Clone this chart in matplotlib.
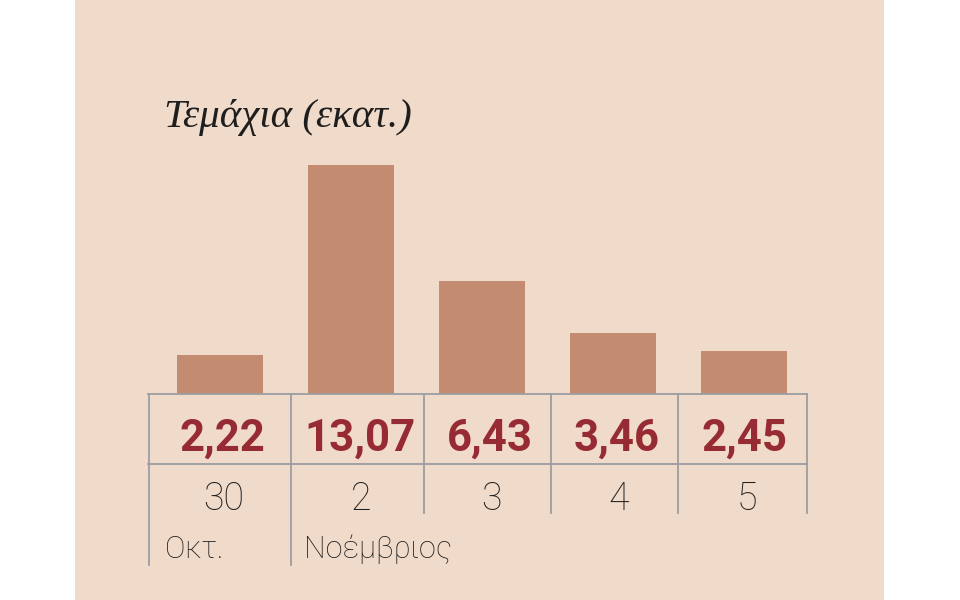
import matplotlib
matplotlib.use("Agg")
import matplotlib.pyplot as plt
from matplotlib.lines import Line2D
from matplotlib.patches import Rectangle

# data
days = ["30", "2", "3", "4", "5"]
values = [2.22, 13.07, 6.43, 3.46, 2.45]
value_labels = ["2,22", "13,07", "6,43", "3,46", "2,45"]
months = ["Οκτ.", "Νοέμβριος"]
title = "Τεμάχια (εκατ.)"

bg = "#f0dac9"
bar_col = "#c38b6f"
val_col = "#962b33"
grid_col = "#9b9ea2"
txt_col = "#1e1e1e"

W, H = 960, 600
fx = lambda px: px / W
fy = lambda py: 1 - py / H

fig = plt.figure(figsize=(9.6, 6), dpi=100, facecolor="white")
fig.add_artist(Rectangle((fx(75), 0), fx(884) - fx(75), 1, transform=fig.transFigure,
                         facecolor=bg, edgecolor="none", zorder=0))

# bar axes: bar i centred at 220 + 131*i px, baseline at y=393.5 px
left, right, base, top = 149, 807, 393.5, 100
ax = fig.add_axes([fx(left), fy(base), fx(right) - fx(left), fy(top) - fy(base)])
ax.set_facecolor("none")
ax.bar(range(len(values)), values, width=0.65, color=bar_col, zorder=2)
ax.set_xlim((left - 220) / 131, (right - 220) / 131)
scale = (base - 165) / max(values)
ax.set_ylim(0, (base - top) / scale)
ax.axis("off")

# table grid
bounds = [149, 291, 424, 551, 678, 807]
for y in [393.5, 464]:
    fig.add_artist(Line2D([fx(148), fx(807)], [fy(y), fy(y)], transform=fig.transFigure,
                          color=grid_col, lw=1.3, zorder=3))
for i, b in enumerate(bounds):
    bottom = 565 if i < 2 else 513
    fig.add_artist(Line2D([fx(b), fx(b)], [fy(393.5), fy(bottom)], transform=fig.transFigure,
                          color=grid_col, lw=1.3, zorder=3))

centres = [(bounds[i] + bounds[i + 1]) / 2 for i in range(len(days))]
for c, lab in zip(centres, value_labels):
    fig.text(fx(c + 2), fy(451), lab, ha="center", va="baseline", color=val_col,
             fontsize=31.5, fontweight="bold", family="Roboto")
for c, d in zip(centres, days):
    fig.text(fx(c + 4), fy(510), d, ha="center", va="baseline", color=txt_col,
             fontsize=27, fontweight="light", family="Roboto")
for x, m in zip([165, 304], months):
    fig.text(fx(x), fy(558), m, ha="left", va="baseline", color=txt_col,
             fontsize=22, fontweight="light", family="Roboto")

fig.text(fx(164), fy(127), title, ha="left", va="baseline", color=txt_col,
         fontsize=29.5, style="italic", family="Liberation Serif")

fig.savefig("out.png", dpi=100, facecolor="white")
